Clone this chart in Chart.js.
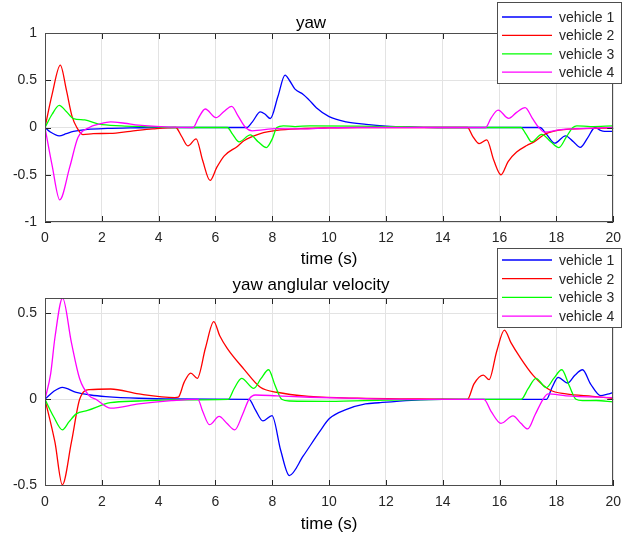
<!DOCTYPE html>
<html>
<head>
<meta charset="utf-8">
<script src="https://cdn.jsdelivr.net/npm/chart.js@4.4.0/dist/chart.umd.min.js"></script>
<style>
  html, body { margin: 0; padding: 0; background: #fff; }
  #wrap { position: relative; width: 629px; height: 535px; overflow: hidden; }
  canvas { position: absolute; left: 0; }
  #yawCanvas { top: 0; }
  #rateCanvas { top: 240px; }
</style>
</head>
<body>
<div id="wrap">
  <canvas id="yawCanvas" width="629" height="270"></canvas>
  <canvas id="rateCanvas" width="629" height="295"></canvas>
</div>
<script>
// series labels and colours (MATLAB b / r / g / m)
const vehicleNames = ['vehicle 1', 'vehicle 2', 'vehicle 3', 'vehicle 4'];
const vehicleColors = ['#0000ff', '#ff0000', '#00ff00', '#ff00ff'];

const xTicks = [0, 2, 4, 6, 8, 10, 12, 14, 16, 18, 20];
const yawTicks = [-1, -0.5, 0, 0.5, 1];
const rateTicks = [-0.5, 0, 0.5];

// yaw, [time s, value]
const yawV1 = [[0,0],[0.2,-0.05],[0.5,-0.088],[0.75,-0.065],[1.0,-0.042],[1.5,-0.02],[2.2,-0.01],[3,-0.004],[4,0],[7.1,0],[7.3,0.06],[7.58,0.165],[7.75,0.14],[7.93,0.095],[8.2,0.33],[8.45,0.554],[8.6,0.5],[8.8,0.406],[9.09,0.35],[9.3,0.29],[9.55,0.21],[10.0,0.115],[10.6,0.06],[11.3,0.033],[12,0.015],[13,0.005],[14,0],[17.42,0],[17.65,-0.07],[17.94,-0.166],[18.32,-0.088],[18.6,-0.15],[18.84,-0.21],[19.1,-0.11],[19.36,0],[19.55,-0.03],[19.7,-0.04],[20,-0.04]];
const yawV2 = [[0,0],[0.25,0.35],[0.54,0.66],[0.75,0.4],[0.95,0.12],[1.12,0],[1.33,-0.075],[1.7,-0.065],[2.3,-0.062],[3,-0.04],[3.8,-0.015],[4.6,0],[4.8,-0.09],[5.03,-0.195],[5.32,-0.12],[5.55,-0.35],[5.81,-0.56],[6.05,-0.42],[6.31,-0.3],[6.77,-0.2],[7.0,-0.14],[7.58,-0.064],[8.16,-0.03],[9,-0.012],[10,-0.004],[11,0],[14.87,0],[15.05,-0.09],[15.28,-0.17],[15.55,-0.13],[15.8,-0.35],[16.05,-0.5],[16.3,-0.36],[16.6,-0.26],[16.96,-0.19],[17.2,-0.155],[17.6,-0.07],[18.1,-0.028],[19.27,-0.01],[20,-0.003]];
const yawV3 = [[0,0],[0.25,0.14],[0.5,0.235],[0.75,0.17],[1.0,0.095],[1.4,0.08],[1.9,0.035],[2.7,0.018],[3.5,0.01],[4.5,0],[6.42,0],[6.6,-0.07],[6.83,-0.152],[7.23,-0.078],[7.5,-0.15],[7.79,-0.212],[8.0,-0.12],[8.16,0],[8.39,0.018],[8.8,0.01],[9.32,0.018],[11,0.015],[12.5,0.008],[14,0],[16.75,0],[16.93,-0.07],[17.13,-0.152],[17.48,-0.072],[17.8,-0.15],[18.09,-0.212],[18.35,-0.1],[18.58,0],[18.72,0.018],[19.2,0.01],[20,0.018]];
const yawV4 = [[0,0],[0.25,-0.4],[0.52,-0.765],[0.87,-0.42],[1.16,-0.106],[1.56,0],[1.9,0.035],[2.31,0.06],[2.8,0.045],[3.3,0.025],[4.4,0.005],[5.21,0],[5.4,0.1],[5.64,0.196],[6.02,0.104],[6.3,0.17],[6.57,0.224],[6.8,0.12],[7.06,0],[7.29,-0.035],[8.16,-0.012],[9,-0.015],[10,-0.005],[11,0],[15.51,0],[15.7,0.1],[15.95,0.183],[16.32,0.097],[16.6,0.16],[16.9,0.21],[17.15,0.1],[17.38,0],[17.59,-0.05],[18.1,-0.026],[18.34,-0.018],[19.4,-0.006],[20,0]];

// yaw angular velocity
const rateV1 = [[0,0],[0.3,0.045],[0.61,0.07],[1.1,0.04],[1.6,0.025],[2.14,0.016],[3.3,0.006],[4.5,0.002],[7.18,0],[7.4,-0.06],[7.67,-0.126],[7.99,-0.095],[8.3,-0.3],[8.6,-0.444],[9.09,-0.33],[9.66,-0.19],[10.01,-0.112],[10.59,-0.06],[11.28,-0.027],[11.75,-0.02],[12.9,-0.006],[14,0],[17.65,0],[17.85,0.07],[18.06,0.128],[18.4,0.095],[18.65,0.14],[18.92,0.172],[19.2,0.09],[19.56,0.021],[19.8,0.03],[20,0.04]];
const rateV2 = [[0,0],[0.35,-0.25],[0.61,-0.498],[0.93,-0.25],[1.22,0],[1.56,0.056],[2.31,0.06],[3.3,0.031],[4.57,0.01],[4.69,0.012],[4.9,0.1],[5.13,0.153],[5.36,0.122],[5.65,0.3],[5.94,0.452],[6.15,0.37],[6.42,0.295],[7.0,0.176],[7.58,0.07],[8.16,0.041],[9.32,0.017],[11,0.006],[13,0.002],[14.87,0],[15.1,0.09],[15.43,0.141],[15.63,0.114],[15.9,0.28],[16.17,0.403],[16.4,0.33],[16.7,0.25],[17.19,0.138],[17.77,0.054],[18.34,0.031],[19.27,0.017],[20,0.006]];
const rateV3 = [[0,0],[0.3,-0.1],[0.61,-0.178],[0.85,-0.13],[1.1,-0.085],[1.5,-0.065],[2.3,-0.02],[3.3,-0.01],[4.5,-0.003],[6.45,0],[6.65,0.06],[6.92,0.122],[7.35,0.064],[7.6,0.12],[7.87,0.172],[8.1,0.08],[8.33,0],[8.62,-0.01],[10,-0.012],[12,-0.005],[14,0],[16.76,0],[17.0,0.06],[17.28,0.122],[17.65,0.068],[17.9,0.12],[18.19,0.172],[18.45,0.08],[18.69,0],[18.92,-0.008],[19.4,-0.007],[20,-0.015]];
const rateV4 = [[0,0],[0.2,0.15],[0.35,0.36],[0.62,0.59],[0.93,0.33],[1.22,0.12],[1.56,0.02],[1.79,0],[2.31,-0.052],[3.3,-0.027],[4.45,-0.008],[5.38,0],[5.55,-0.07],[5.79,-0.148],[6.13,-0.1],[6.4,-0.14],[6.68,-0.178],[6.95,-0.09],[7.18,0],[7.41,0.025],[8.16,0.02],[9.32,0.012],[11,0.005],[13,0],[15.45,0],[15.7,-0.07],[16.05,-0.14],[16.47,-0.097],[16.75,-0.14],[16.99,-0.172],[17.25,-0.09],[17.53,0],[17.71,0.031],[18.34,0.02],[20,0.01]];

const FONT = '"Liberation Sans", Arial, sans-serif';
const TEXT = '#262626';

function makeDatasets(series) {
  return series.map((pts, i) => ({
    label: vehicleNames[i],
    data: pts.map(([x, y]) => ({ x, y })),
    borderColor: vehicleColors[i],
    backgroundColor: vehicleColors[i],
    borderWidth: 1.3,
    pointRadius: 0,
    cubicInterpolationMode: 'monotone',
    fill: false,
    // later vehicles drawn on top, as in the MATLAB figure
    order: series.length - i
  }));
}

// box, inward tick marks, like a MATLAB axes
const matlabFrame = {
  id: 'matlabFrame',
  afterDatasetsDraw(chart) {
    const { ctx, chartArea: a, scales: { x, y } } = chart;
    ctx.save();
    ctx.strokeStyle = TEXT;
    ctx.lineWidth = 1;
    ctx.beginPath();
    x.ticks.forEach(t => {
      const px = Math.round(x.getPixelForValue(t.value)) + 0.5;
      ctx.moveTo(px, a.bottom); ctx.lineTo(px, a.bottom - 6);
      ctx.moveTo(px, a.top); ctx.lineTo(px, a.top + 6);
    });
    y.ticks.forEach(t => {
      const py = Math.round(y.getPixelForValue(t.value)) + 0.5;
      ctx.moveTo(a.left, py); ctx.lineTo(a.left + 6, py);
      ctx.moveTo(a.right, py); ctx.lineTo(a.right - 6, py);
    });
    ctx.stroke();
    ctx.strokeStyle = '#4d4d4d';
    ctx.strokeRect(Math.round(a.left) + 0.5, Math.round(a.top) + 0.5,
      Math.round(a.right - a.left) - 1, Math.round(a.bottom - a.top) - 1);
    ctx.restore();
  }
};

// legend box drawn where MATLAB puts it (northeast, partly above the axes)
const boxLegend = {
  id: 'boxLegend',
  afterDraw(chart, args, opts) {
    const { ctx } = chart;
    ctx.save();
    ctx.fillStyle = '#fff';
    ctx.fillRect(opts.x, opts.y, opts.w, opts.h);
    ctx.strokeStyle = '#4d4d4d';
    ctx.lineWidth = 1;
    ctx.strokeRect(opts.x + 0.5, opts.y + 0.5, opts.w - 1, opts.h - 1);
    ctx.font = '14px ' + FONT;
    ctx.textBaseline = 'middle';
    ctx.textAlign = 'left';
    chart.data.datasets.forEach((ds, i) => {
      const ry = opts.y + opts.first + i * opts.step;
      ctx.strokeStyle = ds.borderColor;
      ctx.lineWidth = 1.3;
      ctx.beginPath();
      ctx.moveTo(opts.x + 5, ry);
      ctx.lineTo(opts.x + 55, ry);
      ctx.stroke();
      ctx.fillStyle = TEXT;
      ctx.fillText(ds.label, opts.x + 62, ry + 1);
    });
    ctx.restore();
  }
};

function buildOptions(cfg) {
  return {
    responsive: false,
    animation: false,
    devicePixelRatio: 1,
    layout: { padding: { left: 0, right: 7, top: 0, bottom: 0 } },
    plugins: {
      legend: { display: false },
      tooltip: { enabled: false },
      title: {
        display: true,
        text: cfg.title,
        color: '#000',
        font: { family: FONT, size: 17, weight: 'normal', lineHeight: 1 },
        padding: cfg.titlePad
      },
      boxLegend: cfg.legend
    },
    scales: {
      x: {
        type: 'linear',
        min: 0, max: 20,
        afterFit: s => { s.height = cfg.xHeight; },
        afterBuildTicks: s => { s.ticks = xTicks.map(v => ({ value: v })); },
        grid: { color: '#e3e3e3', drawTicks: false },
        border: { display: false },
        ticks: { color: TEXT, font: { family: FONT, size: 14 }, padding: 8, maxRotation: 0, autoSkip: false },
        title: {
          display: true, text: 'time (s)', color: '#000',
          font: { family: FONT, size: 17 }, padding: 0
        }
      },
      y: {
        min: cfg.yMin, max: cfg.yMax,
        afterFit: s => { s.width = 45; },
        afterBuildTicks: s => { s.ticks = cfg.yTicks.map(v => ({ value: v })); },
        grid: { color: '#e3e3e3', drawTicks: false },
        border: { display: false },
        ticks: {
          color: TEXT, font: { family: FONT, size: 14 }, padding: 8,
          callback: v => String(v)
        }
      }
    }
  };
}

new Chart(document.getElementById('yawCanvas'), {
  type: 'line',
  data: { datasets: makeDatasets([yawV1, yawV2, yawV3, yawV4]) },
  options: buildOptions({
    title: 'yaw',
    titlePad: { top: 14.5, bottom: 1.5 },
    xHeight: 48,
    yMin: -1, yMax: 1, yTicks: yawTicks,
    legend: { x: 497, y: 2, w: 125, h: 82, first: 15, step: 18.4 }
  }),
  plugins: [matlabFrame, boxLegend]
});

new Chart(document.getElementById('rateCanvas'), {
  type: 'line',
  data: { datasets: makeDatasets([rateV1, rateV2, rateV3, rateV4]) },
  options: buildOptions({
    title: 'yaw anglular velocity',
    titlePad: { top: 36.5, bottom: 4.5 },
    xHeight: 49,
    yMin: -0.505, yMax: 0.59, yTicks: rateTicks,
    legend: { x: 497, y: 8, w: 125, h: 80, first: 12, step: 18.7 }
  }),
  plugins: [matlabFrame, boxLegend]
});
</script>
</body>
</html>
